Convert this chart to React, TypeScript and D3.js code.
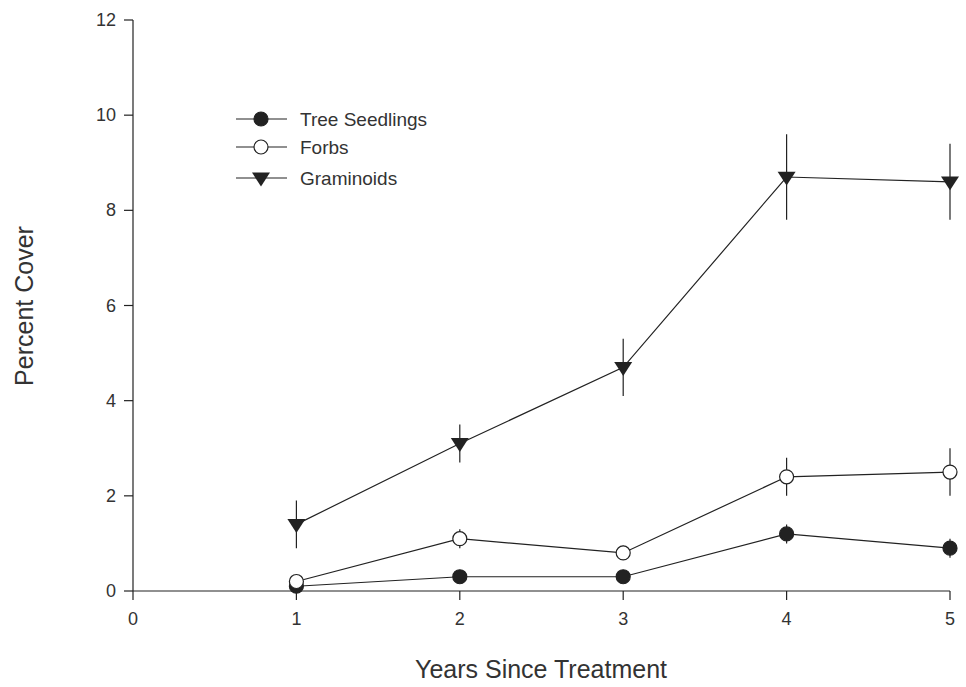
import * as d3 from 'd3';

const years = [1, 2, 3, 4, 5];
const treeMean = [0.1, 0.3, 0.3, 1.2, 0.9];
const treeErr = [0.05, 0.1, 0.1, 0.2, 0.2];
const forbMean = [0.2, 1.1, 0.8, 2.4, 2.5];
const forbErr = [0.1, 0.2, 0.15, 0.4, 0.5];
const gramMean = [1.4, 3.1, 4.7, 8.7, 8.6];
const gramErr = [0.5, 0.4, 0.6, 0.9, 0.8];
const xTicks = [0, 1, 2, 3, 4, 5];
const yTicks = [0, 2, 4, 6, 8, 10, 12];

const W = 966, H = 687;
const font = 'Liberation Sans, Arial, sans-serif';

export default function App() {
  const x = d3.scaleLinear().domain([0, 5]).range([133, 950]);
  const y = d3.scaleLinear().domain([0, 12]).range([591, 20]);
  const line = d3.line<number>().x((_, i) => x(years[i])).y((d) => y(d));

  const series = [
    { name: 'Tree Seedlings', mean: treeMean, err: treeErr, type: 'filled' },
    { name: 'Forbs', mean: forbMean, err: forbErr, type: 'open' },
    { name: 'Graminoids', mean: gramMean, err: gramErr, type: 'tri' },
  ];

  const marker = (type: string, cx: number, cy: number, key: string) => {
    if (type === 'tri') {
      const s = 9;
      return <path key={key} d={`M${cx - s},${cy - s * 0.6} L${cx + s},${cy - s * 0.6} L${cx},${cy + s * 0.95} Z`} fill="#222" />;
    }
    return <circle key={key} cx={cx} cy={cy} r={7} fill={type === 'filled' ? '#222' : '#fff'} stroke="#222" strokeWidth={1.2} />;
  };

  return (
    <svg width={W} height={H} style={{ position: 'absolute', left: 0, top: 0, background: '#fff' }} fontFamily={font}>
      <line x1={133} x2={133} y1={20} y2={591} stroke="#222" strokeWidth={1.2} />
      <line x1={133} x2={950} y1={591} y2={591} stroke="#222" strokeWidth={1.2} />
      {yTicks.map((t) => (
        <g key={'y' + t}>
          <line x1={124} x2={133} y1={y(t)} y2={y(t)} stroke="#222" strokeWidth={1.2} />
          <text x={116} y={y(t) + 6} textAnchor="end" fontSize={18} fill="#333">{t}</text>
        </g>
      ))}
      {xTicks.map((t) => (
        <g key={'x' + t}>
          <line x1={x(t)} x2={x(t)} y1={591} y2={600} stroke="#222" strokeWidth={1.2} />
          <text x={x(t)} y={625} textAnchor="middle" fontSize={18} fill="#333">{t}</text>
        </g>
      ))}
      <text x={541} y={678} textAnchor="middle" fontSize={25} fill="#333">Years Since Treatment</text>
      <text transform="translate(33,306) rotate(-90)" textAnchor="middle" fontSize={25} fill="#333">Percent Cover</text>

      {series.map((s) => (
        <g key={s.name}>
          <path d={line(s.mean) || ''} fill="none" stroke="#222" strokeWidth={1.2} />
          {s.mean.map((m, i) => (
            <line key={i} x1={x(years[i])} x2={x(years[i])} y1={y(m - s.err[i])} y2={y(m + s.err[i])} stroke="#222" strokeWidth={1.2} />
          ))}
          {s.mean.map((m, i) => marker(s.type, x(years[i]), y(m), s.name + i))}
        </g>
      ))}

      {series.map((s, i) => {
        const ly = [119, 147, 178][i];
        return (
          <g key={'l' + s.name}>
            <line x1={236} x2={287} y1={ly} y2={ly} stroke="#222" strokeWidth={1.2} />
            {marker(s.type, 261, ly, 'lm' + i)}
            <text x={300} y={ly + 7} fontSize={19} fill="#333">{s.name}</text>
          </g>
        );
      })}
    </svg>
  );
}
